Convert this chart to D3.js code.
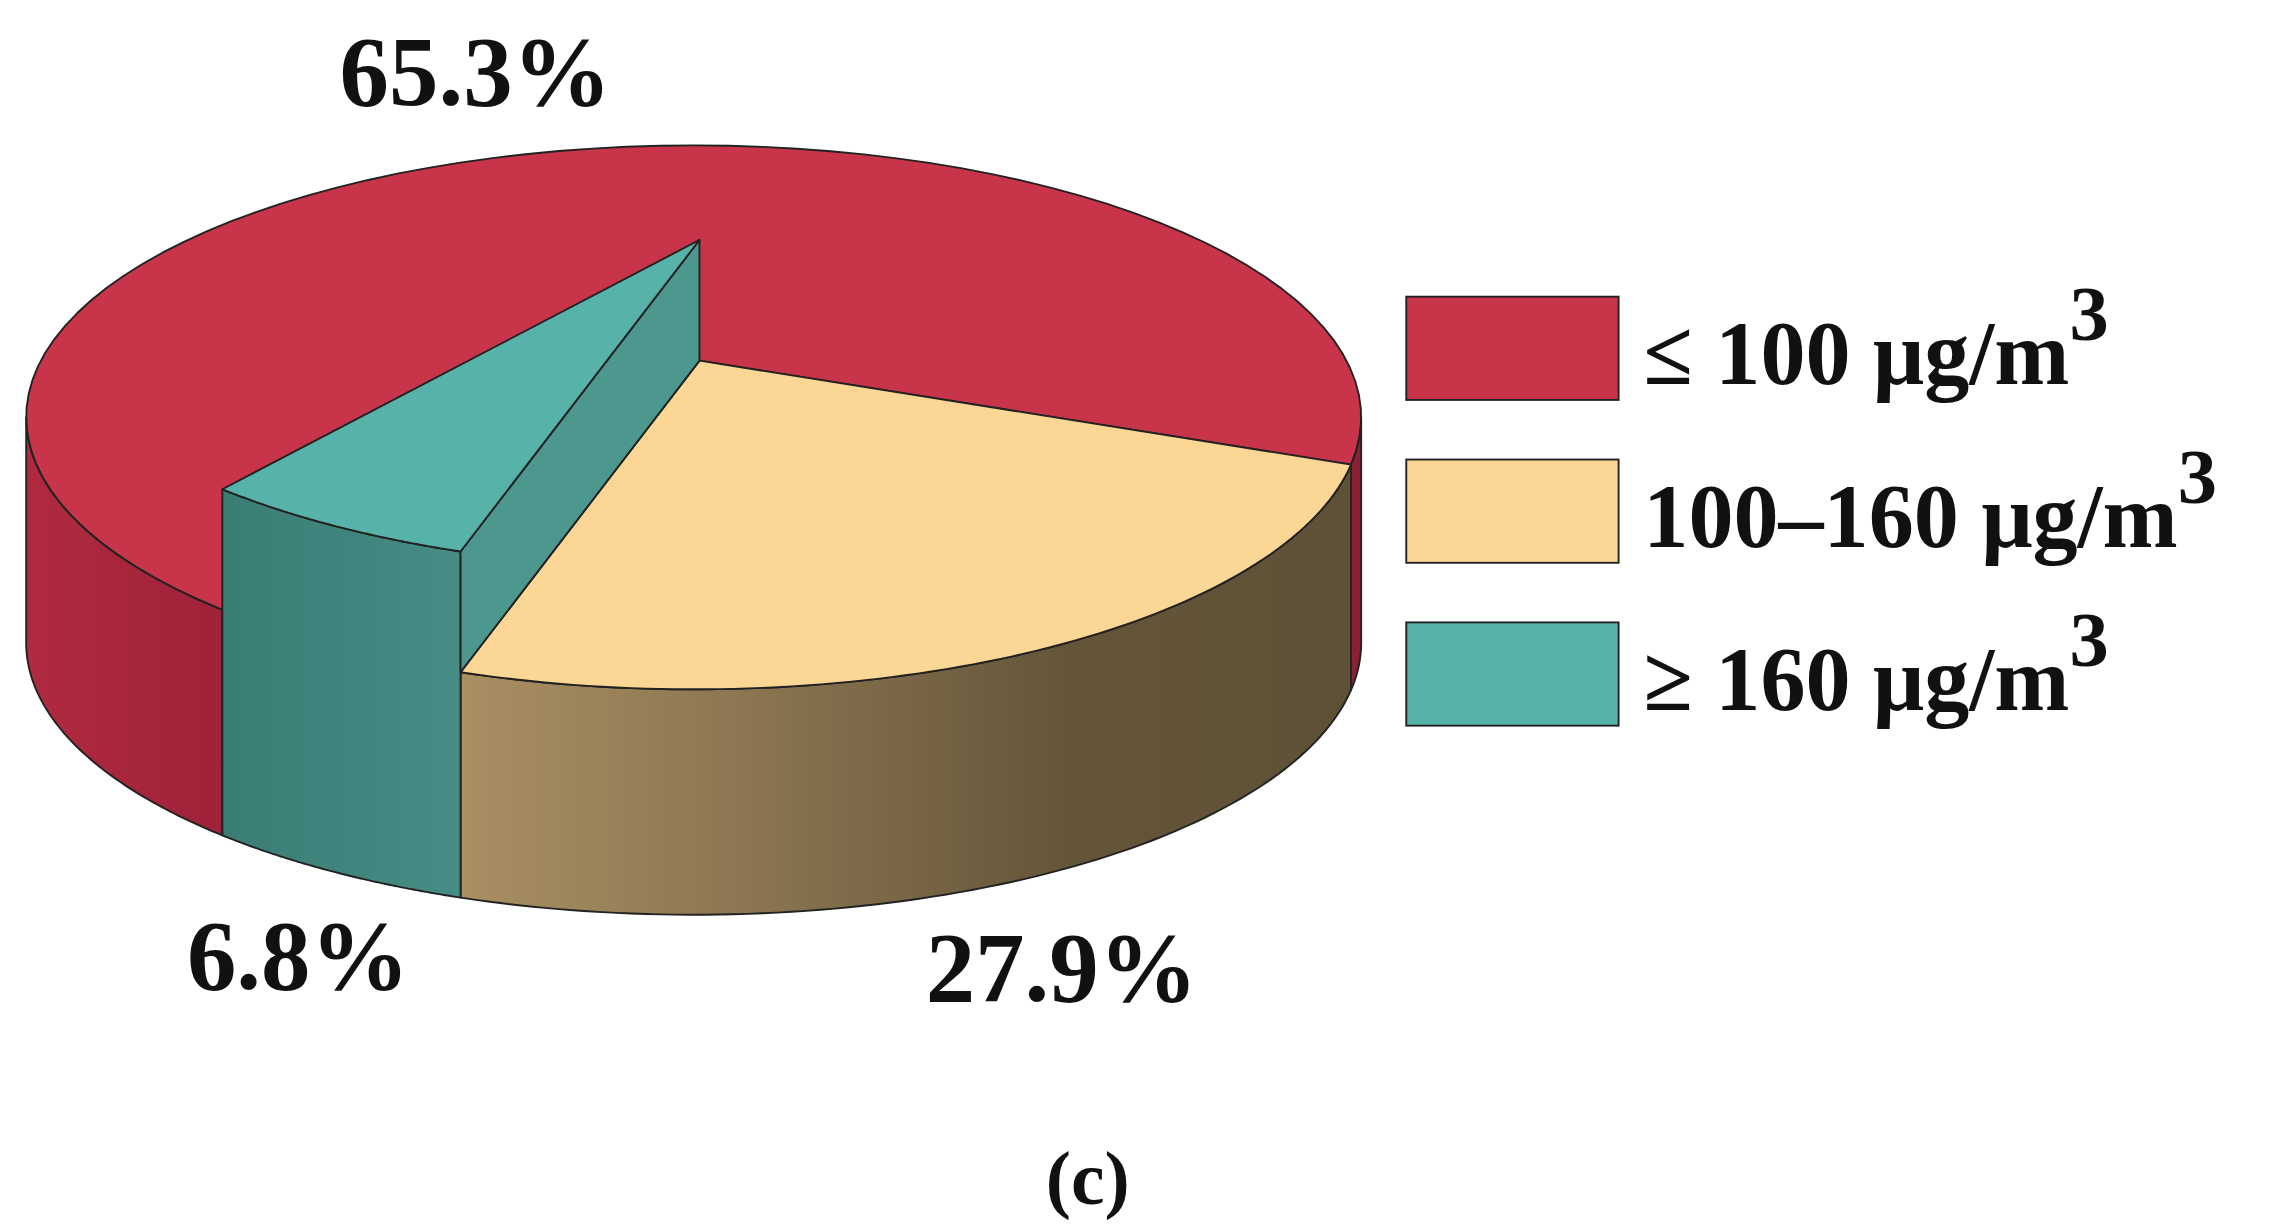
<!DOCTYPE html><html><head><meta charset="utf-8">
<script src="https://cdn.jsdelivr.net/npm/d3@7"></script>
<style>body{margin:0;background:#fff}</style></head><body>
<svg id="c" width="2273" height="1224"></svg>
<script>
const categories=["≤ 100 μg/m","100–160 μg/m","≥ 160 μg/m"];
const values=[65.3,27.9,6.8];
const labels=["65.3%","27.9%","6.8%"];
const topColors=["#c8344a","#fcd694","#57b3aa"];

const s=2273/1563;
const svg=d3.select("#c");
const defs=svg.append("defs");
function grad(id,stops){const g=defs.append("linearGradient").attr("id",id).attr("gradientUnits","userSpaceOnUse").attr("x1",stops.x1).attr("x2",stops.x2).attr("y1",0).attr("y2",0);
 stops.c.forEach((c,i)=>g.append("stop").attr("offset",i/(stops.c.length-1)).attr("stop-color",c));}
grad("gy",{x1:318,x2:935,c:["#a98f62","#8a7450","#65563a","#5e5036"]});
grad("gr",{x1:18,x2:155,c:["#b02a40","#9e2238"]});
grad("gt",{x1:155,x2:318,c:["#3a7d75","#468d85"]});
const g=svg.append("g").attr("transform",`scale(${s})`);

const cx=477,cy=287,rx=459,ry=187,H=155,lift=83,ax=481,ay=248;
const P=(deg,dy=0)=>[cx+rx*Math.cos(deg*Math.PI/180),cy+ry*Math.sin(deg*Math.PI/180)+dy];
const arc=(a1,a2,dy=0)=>d3.range(0,1.0001,1/80).map(t=>P(a1+(a2-a1)*t,dy));
const line=d3.line();
const stroke={"stroke":"#222","stroke-width":1.3,"stroke-linejoin":"round"};
function poly(pts,fill){const p=g.append("path").attr("d",line(pts)+"Z").attr("fill",fill);for(const k in stroke)p.attr(k,stroke[k]);return p;}

const tot=d3.sum(values);
const span=values.map(v=>v/tot*360);
const aRY=10;
const aYT=aRY+span[1];
const aTR=aYT+span[2];

poly([[ax,ay],...arc(aTR,aRY+360)],topColors[0]);
poly([...arc(aTR,180),...arc(180,aTR,H)],"url(#gr)");
poly([...arc(0,aRY),...arc(aRY,0,H)],"#8a2234");
poly([...arc(aRY,aYT),...arc(aYT,aRY,H)],"url(#gy)");
poly([[ax,ay],...arc(aRY,aYT)],topColors[1]);
poly([...arc(aYT,aTR,-lift),...arc(aTR,aYT,H)],"url(#gt)");
const pYT=P(aYT);
poly([[ax,ay-lift],[pYT[0],pYT[1]-lift],pYT,[ax,ay]],"#4c988f");
poly([[ax,ay-lift],...arc(aYT,aTR,-lift)],topColors[2]);

const font="'Liberation Serif','Times New Roman',serif";
const lpos=[[327,72],[730,688],[205,680]];
labels.forEach((t,i)=>g.append("text").attr("x",lpos[i][0]).attr("y",lpos[i][1]).attr("text-anchor","middle")
 .attr("font-family",font).attr("font-weight","bold").attr("font-size",68).attr("fill","#111").text(t));
categories.forEach((c,i)=>{
 const y=204+i*112;
 g.append("rect").attr("x",967).attr("y",y).attr("width",146).attr("height",71).attr("fill",topColors[i]).attr("stroke","#222").attr("stroke-width",1.3);
 const t=g.append("text").attr("x",1130).attr("y",y+60).attr("font-family",font).attr("font-weight","bold").attr("font-size",62).attr("fill","#111");
 t.append("tspan").text(c);
 t.append("tspan").attr("dy",-30).attr("font-size",54).text("3");
});
g.append("text").attr("x",748).attr("y",828).attr("text-anchor","middle").attr("font-family",font).attr("font-weight","bold").attr("font-size",52).attr("fill","#111").text("(c)");
</script></body></html>
